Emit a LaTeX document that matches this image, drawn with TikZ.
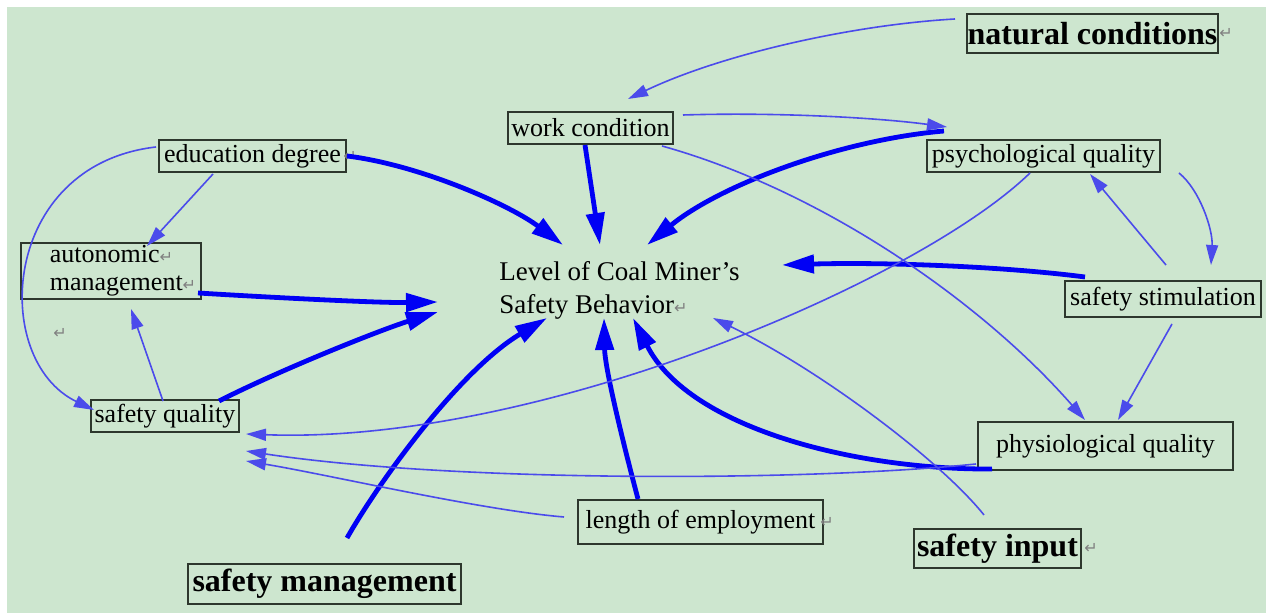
\documentclass[tikz,border=0pt]{standalone}
\usepackage{fontspec}
\setmainfont{Liberation Serif}
\newfontfamily\symfont{DejaVu Sans}
\usetikzlibrary{arrows.meta,calc}
\definecolor{bggreen}{RGB}{205,230,207}
\definecolor{boxline}{RGB}{45,55,45}
\definecolor{strongblue}{RGB}{0,0,245}
\definecolor{weakblue}{RGB}{75,75,235}
\newcommand{\enter}{\textcolor{gray}{\symfont\fontsize{8}{8}\selectfont ↵}}
\tikzset{
  factor/.style={draw=boxline, line width=1pt, inner sep=0pt, font=\fontsize{13}{16}\selectfont},
  keyfactor/.style={factor, font=\fontsize{16}{19}\selectfont\bfseries},
  retmark/.style={inner sep=0pt, font=\symfont\fontsize{8}{8}\selectfont, text=gray},
  bigarrow/.style={strongblue, line width=2.4pt, -{Triangle[length=16pt,width=9pt]}},
  smallarrow/.style={weakblue, line width=0.8pt, -{Triangle[length=10pt,width=6pt]}}
}
\begin{document}
\begin{tikzpicture}[x=5pt,y=-5pt]
\useasboundingbox (0,0) rectangle (126.6,61.3);
\fill [bggreen] (0.7,0.7) rectangle (126.6,61.3);
\node [keyfactor, minimum width=125.5pt, minimum height=19.5pt, label={[retmark]0:↵}] (natcond) at (109.25,3.35) {natural conditions};
\node [factor, minimum width=82.5pt, minimum height=16pt] (work) at (59.05,12.8) {work condition};
\node [factor, minimum width=116.5pt, minimum height=16pt] (psych) at (104.35,15.6) {psychological quality};
\node [factor, minimum width=93.5pt, minimum height=16pt, label={[retmark,xshift=-2pt]0:↵}] (edu) at (25.25,15.6) {education degree};
\node [factor, minimum width=90pt, minimum height=28pt, align=left, font=\fontsize{13}{14}\selectfont] (auto) at (11.1,27.1) {\hspace*{12pt}autonomic\enter\\\hspace*{12pt}management\enter};
\node [align=left, font=\fontsize{13.5}{16.5}\selectfont] (level) at (61.95,29.0) {Level of Coal Miner’s\\Safety Behavior\enter};
\node [factor, minimum width=98pt, minimum height=18pt] (stim) at (116.3,29.9) {safety stimulation};
\node [factor, minimum width=74pt, minimum height=16pt] (squal) at (16.5,41.6) {safety quality};
\node [factor, minimum width=127.5pt, minimum height=24pt] (phys) at (110.55,44.6) {physiological quality};
\node [factor, minimum width=122.5pt, minimum height=22pt, label={[retmark,xshift=-2pt]0:↵}] (length) at (70.05,52.2) {length of employment};
\node [keyfactor, minimum width=83.5pt, minimum height=19.5pt, label={[retmark,xshift=1pt]0:↵}] (input) at (99.75,54.85) {safety input};
\node [keyfactor, minimum width=136.5pt, minimum height=20pt] (mgmt) at (32.45,58.4) {safety management};
\node [retmark] (blank) at (6.0,33.3) {↵};
\draw [bigarrow] (edu.east) .. controls (42,16.5) and (51,20.5) .. ($(level)+(-5.65,-4.5)$);
\draw [bigarrow] ($(work.south)+(-0.55,0)$) -- ($(level)+(-1.95,-4.5)$);
\draw [bigarrow] ($(psych.north west)+(1.8,-0.8)$) .. controls (84,14) and (72,18.5) .. ($(level)+(2.75,-4.5)$);
\draw [bigarrow] ($(stim.north west)+(2.1,-0.3)$) .. controls (100,26.6) and (88,26.2) .. ($(level)+(16.25,-2.5)$);
\draw [bigarrow] ($(auto.south east)+(-0.4,-0.7)$) .. controls (28,29.8) and (38,30.3) .. ($(level)+(-18.15,1.2)$);
\draw [bigarrow] ($(squal.north east)+(-2.1,0.2)$) .. controls (28,37) and (38,33) .. ($(level)+(-18.15,2.2)$);
\draw [bigarrow] ($(mgmt.north)+(2.25,-2.5)$) .. controls (38,48) and (46,37) .. ($(level)+(-7.25,2.8)$);
\draw [bigarrow] ($(length.north)+(-6.25,0)$) .. controls (62.5,45) and (60.5,37) .. ($(level)+(-1.55,2.8)$);
\draw [bigarrow] ($(phys.south west)+(1.5,-0.2)$) .. controls (86,47) and (69,43) .. ($(level)+(1.35,2.8)$);
\draw [smallarrow] ($(natcond.west)+(-1.1,-1.45)$) .. controls (85,2.5) and (72,5.5) .. ($(work.north)+(3.75,-1.2)$);
\draw [smallarrow] ($(work.north east)+(0.9,0.4)$) .. controls (78,11.2) and (88,11.8) .. ($(psych.north west)+(2.1,-1.2)$);
\draw [smallarrow] ($(work.south east)+(-1.2,0.1)$) .. controls (82,19) and (98,30) .. ($(phys.north)+(-2.05,-0.1)$);
\draw [smallarrow] ($(psych.south)+(-1.35,0)$) .. controls (92,28) and (54,44.5) .. ($(squal.south east)+(0.6,0.1)$);
\draw [smallarrow] ($(psych.south east)+(1.8,0)$) .. controls (120,19) and (121.3,23) .. ($(stim.north)+(4.8,-1.5)$);
\draw [smallarrow] ($(stim.north)+(0.3,-1.5)$) -- ($(psych.south)+(4.65,0.1)$);
\draw [smallarrow] ($(stim.south)+(0.9,0.6)$) -- ($(phys.north)+(1.25,-0.1)$);
\draw [smallarrow] ($(phys.south west)+(-0.1,-0.7)$) .. controls (80,48.2) and (45,48.2) .. ($(squal.south east)+(0.6,1.8)$);
\draw [smallarrow] ($(length.west)+(-1.3,-0.5)$) .. controls (48,51) and (33,47.5) .. ($(squal.south east)+(0.6,2.8)$);
\draw [smallarrow] ($(input.north)+(-1.35,-1.3)$) .. controls (94,46) and (82,37) .. ($(level)+(9.35,2.8)$);
\draw [smallarrow] ($(edu.south)+(-3.95,0.1)$) -- ($(auto.north)+(3.6,0.4)$);
\draw [smallarrow] ($(edu.west)+(-0.2,-0.9)$) .. controls (0,16.5) and (-1,36) .. ($(squal.west)+(0.4,-0.6)$);
\draw [smallarrow] ($(squal.north)+(-0.2,0.2)$) -- ($(auto.south)+(2,0.9)$);
\end{tikzpicture}
\end{document}
